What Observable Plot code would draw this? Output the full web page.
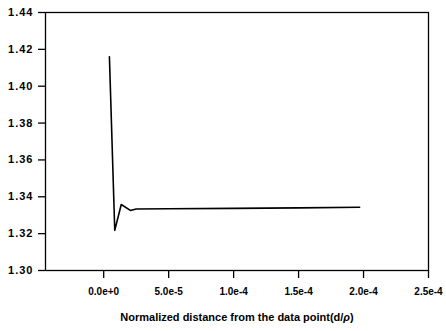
<!DOCTYPE html>
<html>
<head>
<meta charset="utf-8">
<script src="https://cdn.jsdelivr.net/npm/d3@7"></script>
<script src="https://cdn.jsdelivr.net/npm/@observablehq/plot@0.6"></script>
<style>
  html, body { margin: 0; padding: 0; background: #fff; }
  svg { display: block; }
</style>
</head>
<body>
<div id="chart"></div>
<script>
const distance = [4.4e-6, 8.5e-6, 1.35e-5, 2.05e-5, 2.5e-5, 5e-5, 1e-4, 1.5e-4, 1.97e-4];
const ratio    = [1.416, 1.3218, 1.3358, 1.3326, 1.3334, 1.3335, 1.3337, 1.3340, 1.3343];
const xTicks = [0, 5e-5, 1e-4, 1.5e-4, 2e-4, 2.5e-4];
const yTicks = [1.30, 1.32, 1.34, 1.36, 1.38, 1.40, 1.42, 1.44];
const xLabel = "Normalized distance from the data point(d/ρ)";

const data = distance.map((d, i) => ({x: d, y: ratio[i]}));

const chart = Plot.plot({
  width: 446,
  height: 331,
  marginLeft: 45,
  marginRight: 18,
  marginTop: 12,
  marginBottom: 61,
  style: {fontFamily: "Arial, 'Liberation Sans', sans-serif", color: "#000", background: "#fff"},
  x: {domain: [-4.48e-5, 2.5e-4]},
  y: {domain: [1.30, 1.44]},
  marks: [
    Plot.frame({stroke: "#000", strokeWidth: 1.3}),
    Plot.axisY({ticks: yTicks, tickFormat: d3.format(".2f"), tickSize: 7, tickPadding: 5, label: null, fontSize: 11, fontWeight: "bold", stroke: "#000", strokeWidth: 1.3}),
    Plot.axisX({ticks: xTicks, tickFormat: d3.format(".1e"), tickSize: 8, tickPadding: 9, label: null, fontSize: 10, fontWeight: "bold", stroke: "#000", strokeWidth: 1.3}),
    Plot.line(data, {x: "x", y: "y", stroke: "#000", strokeWidth: 1.6}),
    Plot.text([xLabel], {text: d => d, frameAnchor: "bottom", dy: 50, fontSize: 11, fontWeight: "bold", fill: "#000"})
  ]
});
document.getElementById("chart").appendChild(chart);

// widen y tick labels slightly, as in the reference
d3.select(chart).selectAll("[aria-label='y-axis tick label'] text").attr("letter-spacing", "1px");

// italicise rho in the axis label
d3.select(chart).selectAll("text").each(function() {
  const t = this.textContent;
  if (t === xLabel) {
    const sel = d3.select(this);
    sel.text(null);
    sel.append("tspan").text("Normalized distance from the data point(d/");
    sel.append("tspan").attr("font-style", "italic").text("ρ");
    sel.append("tspan").text(")");
  }
});
</script>
</body>
</html>
